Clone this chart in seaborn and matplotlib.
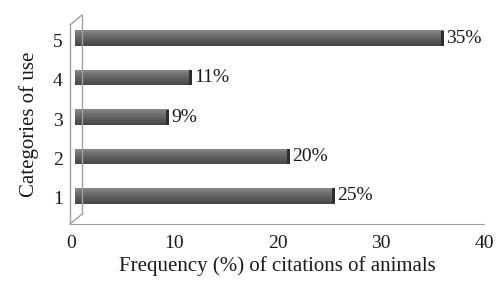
import matplotlib
matplotlib.use("Agg")
import matplotlib.pyplot as plt
import matplotlib.transforms as mtransforms
import seaborn as sns
import numpy as np
import pandas as pd

# data (bar lengths as drawn, labels as printed)
categories = ["1", "2", "3", "4", "5"]
values = [25.2, 20.8, 9.1, 11.3, 35.7]
labels = ["25%", "20%", "9%", "11%", "35%"]

df = pd.DataFrame({"cat": categories, "freq": values})
df["pos"] = range(len(df))

sns.set_style("white")
plt.rcParams["font.family"] = ["Liberation Serif", "DejaVu Serif"]

fig = plt.figure(figsize=(4.97, 2.85), dpi=100)
ax = fig.add_axes([0.143, 0.214, 0.831, 0.698])

# cylinder look: stack thin strips, light near the top, dark at the bottom
shift = mtransforms.ScaledTranslation(4 / 100, 2 / 100, fig.dpi_scale_trans)
bar_h = 0.38
n = 10
greys = np.concatenate([np.linspace(0.28, 0.42, 7), np.linspace(0.44, 0.52, 3)])
for i in range(n):
    off = -bar_h / 2 + (i + 0.5) * bar_h / n
    g = greys[i]
    ax.barh(df["pos"] + off, df["freq"], height=bar_h / n + 0.005,
            color=(g, g, g), edgecolor="none", transform=ax.transData + shift)
# end caps
ax.barh(df["pos"], [0.3] * len(df), left=df["freq"] - 0.3, height=bar_h,
        color="#2e2e2e", edgecolor="none", transform=ax.transData + shift)

for p, v, lab in zip(df["pos"], df["freq"], labels):
    ax.text(v + 0.2, p, lab, va="center", ha="left", fontsize=14, color="#1a1a1a",
            transform=ax.transData + shift)

ax.set_xlim(0, 40)
ax.set_ylim(-0.66, 4.38)
ax.set_xticks([0, 10, 20, 30, 40])
ax.set_yticks(df["pos"])
ax.set_yticklabels(categories)

for s in ["top", "right", "left"]:
    ax.spines[s].set_visible(False)
ax.spines["bottom"].set_color("#a0a0a0")
ax.tick_params(axis="x", length=6, color="#a0a0a0", labelsize=14, labelcolor="#1a1a1a", pad=2)
ax.tick_params(axis="y", length=0, labelsize=14, labelcolor="#1a1a1a", pad=6)

# side wall of the 3d frame
wall = dict(color="#a0a0a0", lw=1, transform=fig.transFigure, clip_on=False)
x0, x1 = 70 / 497, 82 / 497
yb, yt = 1 - 224 / 285, 1 - 25 / 285
d = 10 / 285
fig.add_artist(plt.Line2D([x0, x0], [yb, yt], **wall))
fig.add_artist(plt.Line2D([x1, x1], [yb + d, yt + d], **wall))
fig.add_artist(plt.Line2D([x0, x1], [yt, yt + d], **wall))
fig.add_artist(plt.Line2D([x0, x1], [yb, yb + d], **wall))

ax.set_xlabel("Frequency (%) of citations of animals", fontsize=15, color="#1a1a1a", labelpad=3)
ax.set_ylabel("Categories of use", fontsize=15, color="#1a1a1a", labelpad=10)

fig.savefig("out.png", dpi=100)
